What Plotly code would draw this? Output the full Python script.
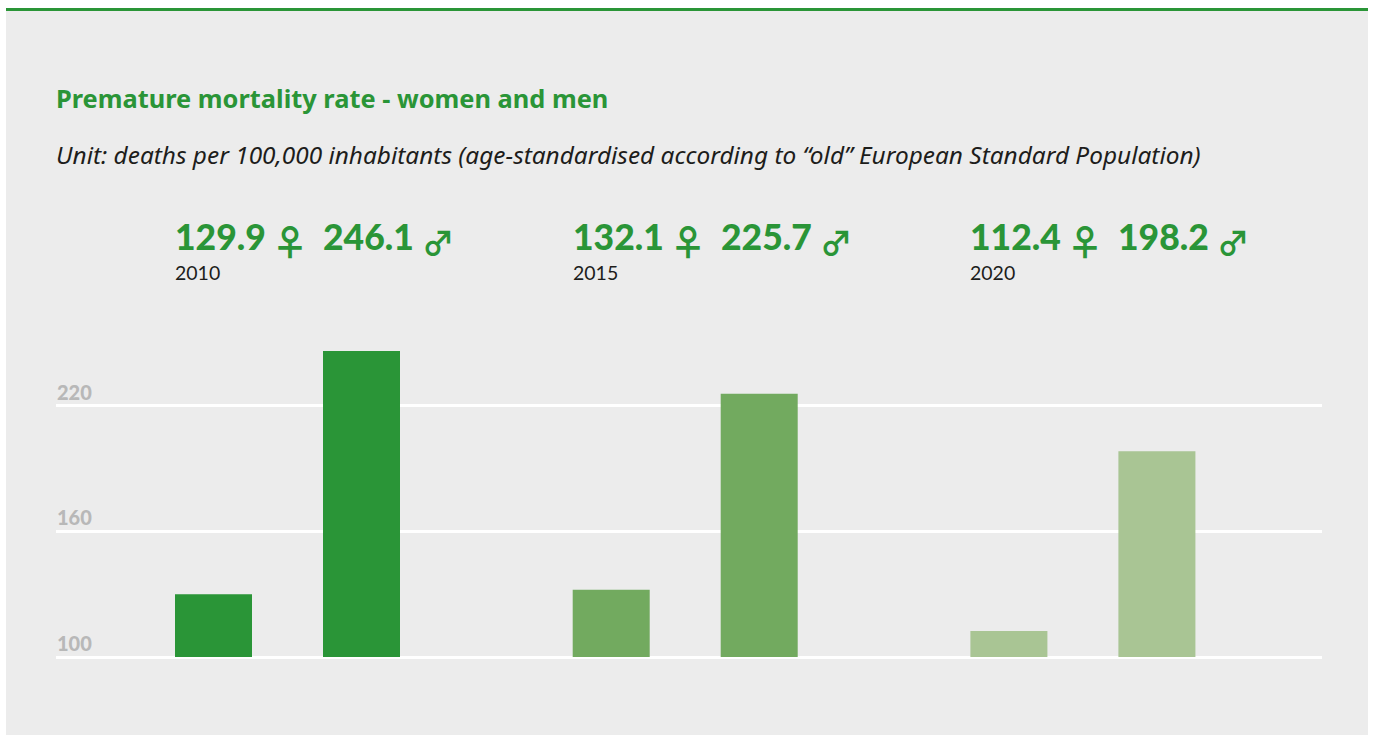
import plotly.graph_objects as go

years = ["2010", "2015", "2020"]
women = [129.9, 132.1, 112.4]
men = [246.1, 225.7, 198.2]
colors = ["#2a9537", "#72aa5f", "#a9c594"]
y_ticks = [100, 160, 220]
title = "Premature mortality rate - women and men"
subtitle = "Unit: deaths per 100,000 inhabitants (age-standardised according to “old” European Standard Population)"

W, H = 1373, 735
L, R, T, B = 56, 1322, 321, 661
Y100 = 657
SCALE = 2.095
GREEN = "#2a9537"
TITLE_FONT = "Noto Sans, sans-serif"
NUM_FONT = "Lato, sans-serif"
SYM_FONT = "Noto Sans CJK JP, DejaVu Sans"


def px(x):
    return (x - L) / (R - L)


def py(y):
    return (B - y) / (B - T)


step = 397.7
bw = 77 / step
gap = 148 / step
fig = go.Figure()
fig.add_bar(x=years, y=[v - y_ticks[0] for v in women], base=y_ticks[0], width=bw, offset=0,
            marker=dict(color=colors, line_width=0), name="Women")
fig.add_bar(x=years, y=[v - y_ticks[0] for v in men], base=y_ticks[0], width=bw, offset=gap,
            marker=dict(color=colors, line_width=0), name="Men")

ann = [
    dict(x=px(56), y=py(98), text=f"<b>{title}</b>", font=dict(family=TITLE_FONT, size=25.4, color=GREEN)),
    dict(x=px(56), y=py(154), text=f"<i>{subtitle}</i>", font=dict(family=TITLE_FONT, size=24.4, color="#1d1d1b")),
]
for i, y in enumerate(years):
    x0 = 175 + i * step
    ann += [
        dict(x=px(x0), y=py(236), text=str(women[i]), font=dict(family=NUM_FONT, size=35.5, weight=900, color=GREEN)),
        dict(x=px(x0 + 115), y=py(240), text="<b>♀</b>", xanchor="center", font=dict(family=SYM_FONT, size=36, color=GREEN)),
        dict(x=px(x0 + 148), y=py(236), text=str(men[i]), font=dict(family=NUM_FONT, size=35.5, weight=900, color=GREEN)),
        dict(x=px(x0 + 263), y=py(241), text="<b>♂</b>", xanchor="center", font=dict(family=SYM_FONT, size=32, color=GREEN)),
        dict(x=px(x0), y=py(272), text=y, font=dict(family=NUM_FONT, size=19.5, color="#1d1d1b")),
    ]
for a in ann:
    a.setdefault("xanchor", "left")
    a.update(xref="paper", yref="paper", yanchor="middle", showarrow=False, borderpad=0, borderwidth=0)

fig.update_layout(
    width=W, height=H,
    margin=dict(l=L, r=W - R, t=T, b=H - B, pad=0),
    paper_bgcolor="white", plot_bgcolor="rgba(0,0,0,0)",
    showlegend=False,
    annotations=ann,
    shapes=[
        dict(type="rect", layer="below", xref="paper", yref="paper", x0=px(6), x1=px(1368), y0=py(735), y1=py(8),
             fillcolor="#ececec", line_width=0),
        dict(type="rect", layer="below", xref="paper", yref="paper", x0=px(6), x1=px(1368), y0=py(11), y1=py(8),
             fillcolor=GREEN, line_width=0),
    ],
    xaxis=dict(type="category", categoryorder="array", categoryarray=years,
               range=[-(175 - L) / step, (R - 175) / step], showticklabels=False, showgrid=False, zeroline=False),
    yaxis=dict(range=[y_ticks[0] - (B - Y100) / SCALE, y_ticks[0] + (Y100 - T) / SCALE], tickvals=y_ticks,
               gridcolor="white", gridwidth=3, zeroline=False,
               ticklabelposition="inside", ticklabelstandoff=-2, ticklabelshift=-13,
               tickfont=dict(family=NUM_FONT, size=20, color="#b8b8b8", weight=900)),
)
fig.write_html("out.html", config=dict(displayModeBar=False), post_script="document.body.style.margin='0';")
